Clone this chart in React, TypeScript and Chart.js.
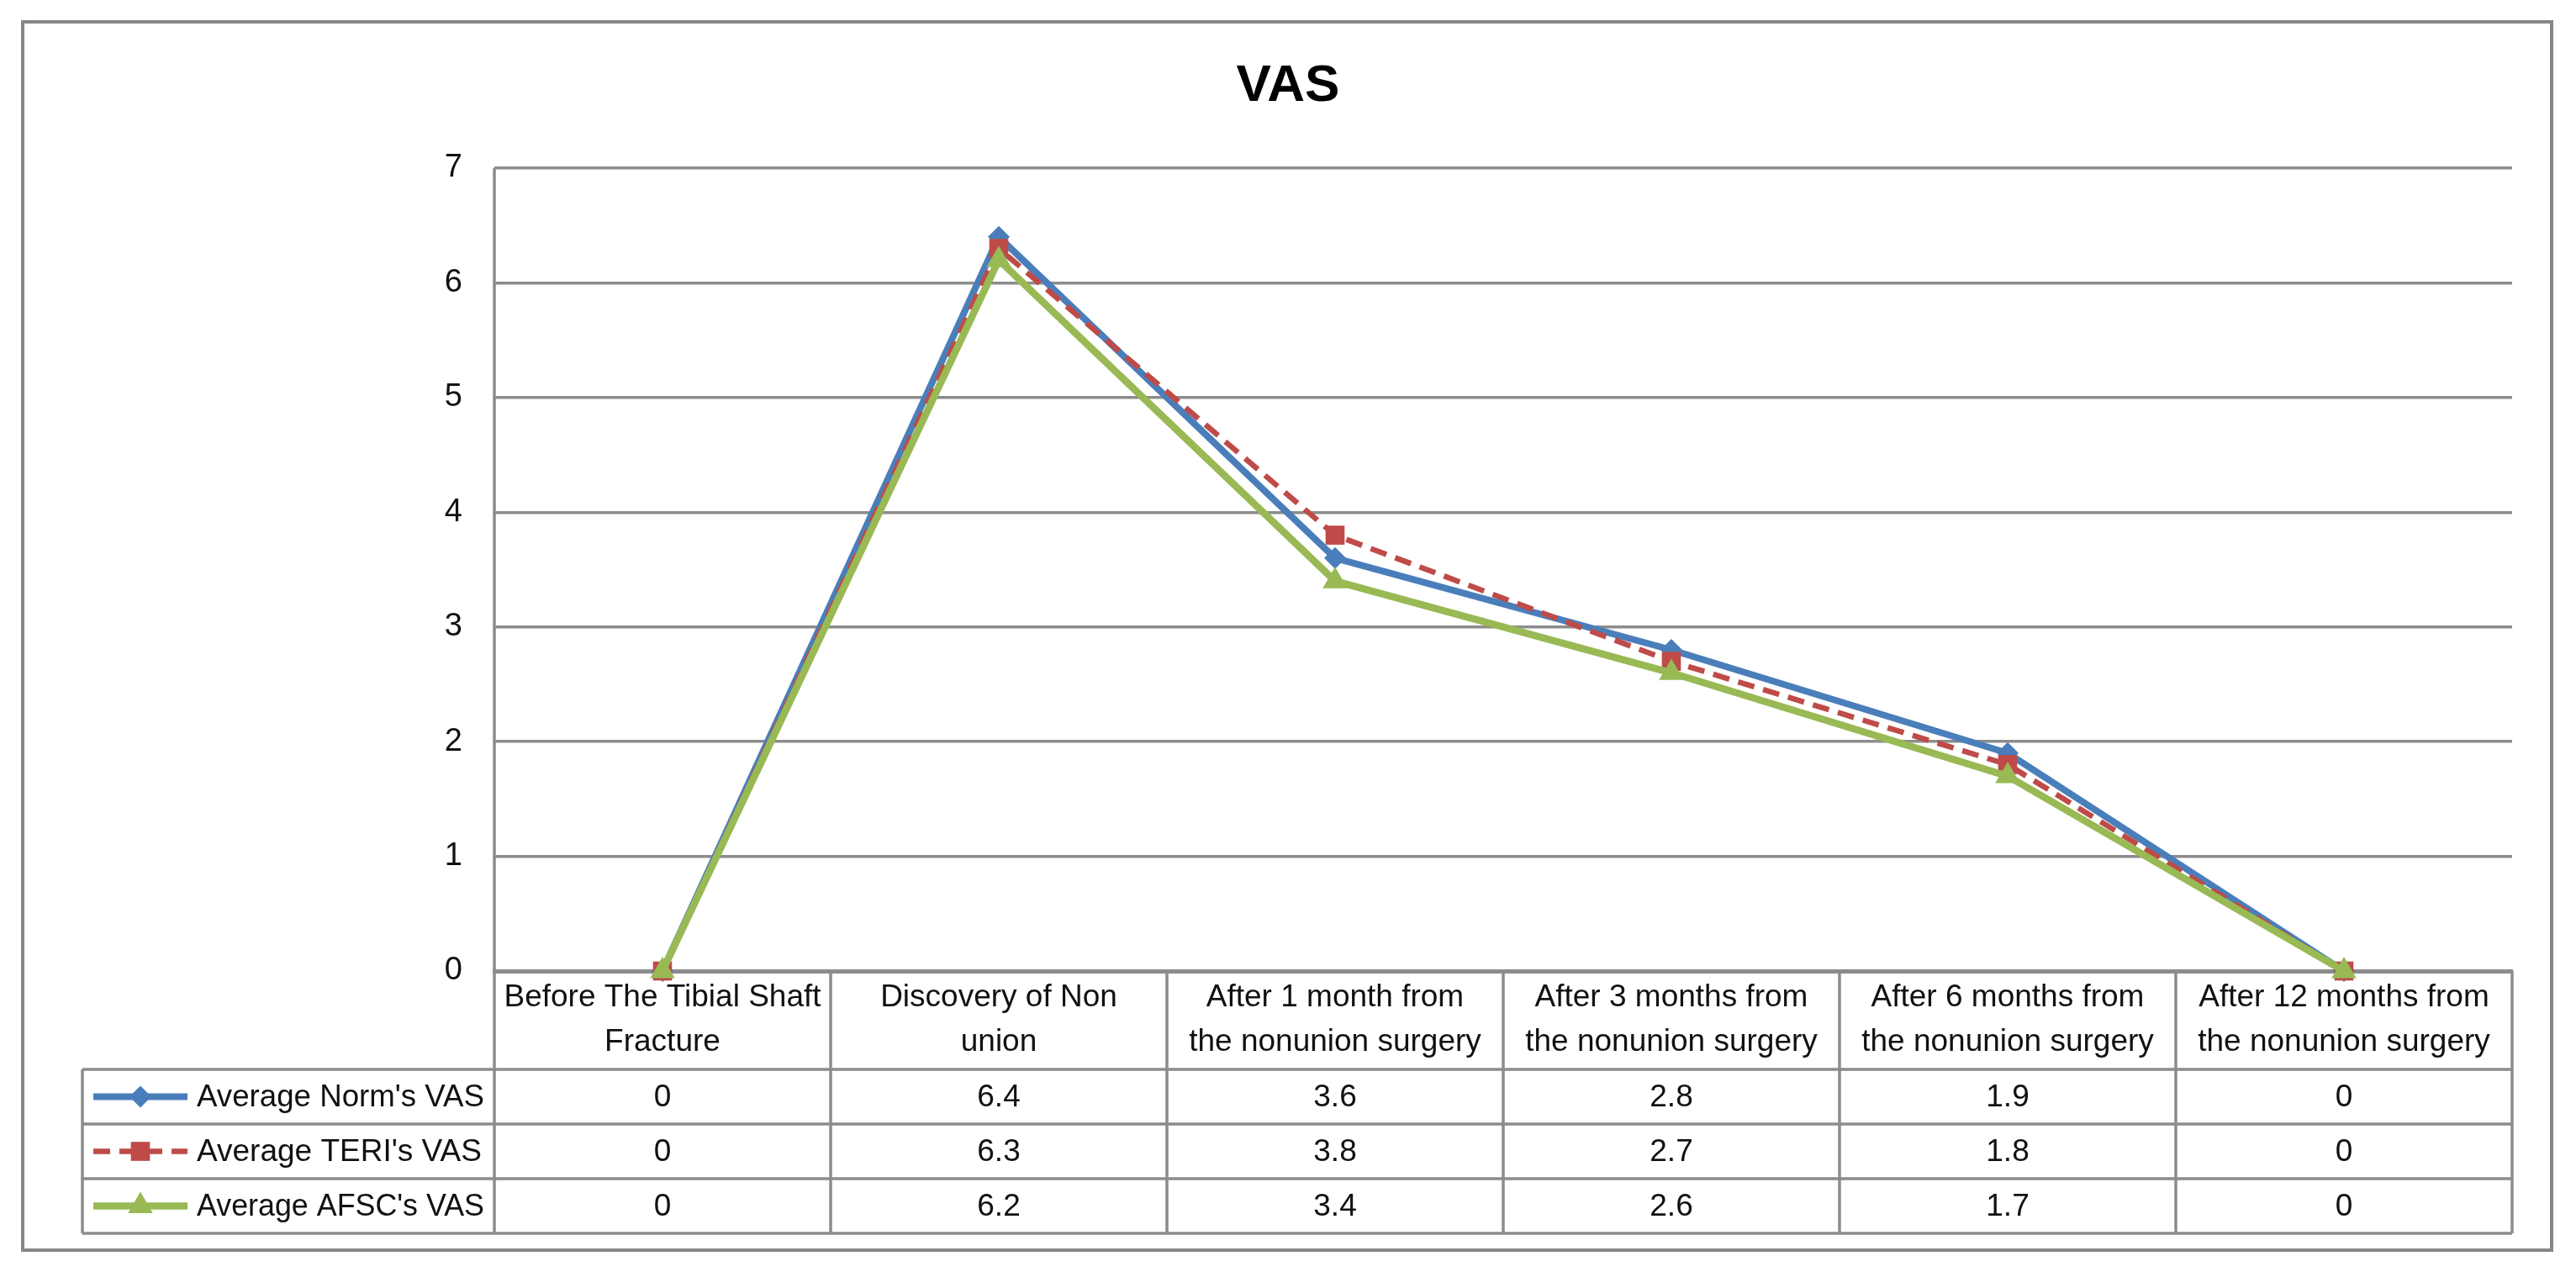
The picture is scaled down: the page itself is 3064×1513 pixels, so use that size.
import { useEffect, useRef } from "react";
import { Chart, registerables } from "chart.js";
import { drawPoint } from "chart.js/helpers";

Chart.register(...registerables);

const TITLE = "VAS";
const CATEGORIES = [
    ["Before The Tibial Shaft", "Fracture"],
    ["Discovery of Non", "union"],
    ["After 1 month from", "the nonunion surgery"],
    ["After 3 months from", "the nonunion surgery"],
    ["After 6 months from", "the nonunion surgery"],
    ["After 12 months from", "the nonunion surgery"],
];
const SERIES_NAMES = ["Average Norm's VAS", "Average TERI's VAS", "Average AFSC's VAS"];
const NORM_VAS = [0, 6.4, 3.6, 2.8, 1.9, 0];
const TERI_VAS = [0, 6.3, 3.8, 2.7, 1.8, 0];
const AFSC_VAS = [0, 6.2, 3.4, 2.6, 1.7, 0];
const Y_MIN = 0;
const Y_MAX = 7;
const Y_STEP = 1;

const FONT = "'Liberation Sans', Arial, sans-serif";
const GRID = "#8c8c8c";
const TEXT = "#111";
const HEADER_H = 117;
const ROW_H = 65;
const TABLE_LEFT = 98;

const STYLES = [
    { color: "#4A7EBB", width: 8, dash: [] as number[], point: "rectRot", radius: 13 },
    { color: "#BE4B48", width: 6.5, dash: [20, 11], point: "rect", radius: 16 },
    { color: "#98B954", width: 8.5, dash: [] as number[], point: "triangle", radius: 17 },
];

const tablePlugin = {
    id: "vasTable",
    beforeDraw(chart: any) {
        const { ctx, width } = chart;
        ctx.save();
        ctx.fillStyle = "#fff";
        ctx.fillRect(0, 0, chart.width, chart.height);
        ctx.strokeStyle = "#878787";
        ctx.lineWidth = 4;
        ctx.strokeRect(27, 26, 3008, 1461);
        ctx.fillStyle = "#000";
        ctx.font = `bold 62px ${FONT}`;
        ctx.textAlign = "center";
        ctx.textBaseline = "middle";
        ctx.fillText(TITLE, width / 2, 103);
        ctx.restore();
    },
    beforeDatasetsDraw(chart: any) {
        const { ctx, chartArea } = chart;
        const x = chart.scales.x;
        const n = CATEGORIES.length;
        const colW = (chartArea.right - chartArea.left) / n;
        const bounds = CATEGORIES.map((_, i) => x.getPixelForValue(i) - colW / 2);
        bounds.push(chartArea.right);
        const headTop = chartArea.bottom;
        const rowsTop = headTop + HEADER_H;
        const tableBottom = rowsTop + ROW_H * SERIES_NAMES.length;

        ctx.save();
        ctx.strokeStyle = GRID;
        ctx.lineWidth = 3.5;
        ctx.beginPath();
        // y axis line running down through the table
        ctx.moveTo(chartArea.left, chartArea.top);
        ctx.lineTo(chartArea.left, tableBottom);
        bounds.slice(1).forEach((bx) => {
            ctx.moveTo(bx, headTop);
            ctx.lineTo(bx, tableBottom);
        });
        ctx.moveTo(TABLE_LEFT, rowsTop);
        ctx.lineTo(TABLE_LEFT, tableBottom);
        for (let r = 0; r <= SERIES_NAMES.length; r++) {
            const y = rowsTop + r * ROW_H;
            ctx.moveTo(TABLE_LEFT, y);
            ctx.lineTo(chartArea.right, y);
        }
        ctx.stroke();

        const series = [NORM_VAS, TERI_VAS, AFSC_VAS];
        ctx.font = `37px ${FONT}`;
        ctx.textBaseline = "middle";
        series.forEach((values, r) => {
            const st = STYLES[r];
            const cy = rowsTop + r * ROW_H + ROW_H / 2;
            // legend key
            ctx.save();
            ctx.strokeStyle = st.color;
            ctx.fillStyle = st.color;
            ctx.lineWidth = st.width;
            ctx.setLineDash(st.dash);
            ctx.beginPath();
            ctx.moveTo(TABLE_LEFT + 13, cy);
            ctx.lineTo(TABLE_LEFT + 125, cy);
            ctx.stroke();
            ctx.setLineDash([]);
            drawPoint(ctx, { pointStyle: st.point as any, radius: st.radius, rotation: 0, borderWidth: 0 }, TABLE_LEFT + 69, cy);
            ctx.restore();

            ctx.fillStyle = TEXT;
            ctx.textAlign = "left";
            ctx.fillText(SERIES_NAMES[r], TABLE_LEFT + 136, cy + 1, chartArea.left - TABLE_LEFT - 148);
            ctx.textAlign = "center";
            values.forEach((v, i) => {
                ctx.fillText(String(v), x.getPixelForValue(i), cy + 1);
            });
        });
        ctx.restore();
    },
};

export default function App() {
    const canvasRef = useRef<HTMLCanvasElement | null>(null);

    useEffect(() => {
        if (!canvasRef.current) {
            return;
        }

        const chart = new Chart(canvasRef.current, {
            type: "line",
            data: {
                labels: CATEGORIES,
                datasets: [NORM_VAS, TERI_VAS, AFSC_VAS].map((data, i) => ({
                    label: SERIES_NAMES[i],
                    data,
                    borderColor: STYLES[i].color,
                    backgroundColor: STYLES[i].color,
                    borderWidth: STYLES[i].width,
                    borderDash: STYLES[i].dash,
                    pointStyle: STYLES[i].point as any,
                    pointRadius: STYLES[i].radius,
                    pointBackgroundColor: STYLES[i].color,
                    pointBorderWidth: 0,
                    tension: 0,
                    clip: false as any,
                    order: 2 - i,
                })),
            },
            options: {
                responsive: true,
                maintainAspectRatio: false,
                animation: false,
                layout: {
                    padding: { top: 200, left: 0, right: 76, bottom: ROW_H * 3 + 46 },
                },
                plugins: {
                    legend: { display: false },
                    tooltip: { enabled: false },
                    title: { display: false },
                },
                scales: {
                    x: {
                        offset: true,
                        afterFit: (s: any) => {
                            s.height = HEADER_H;
                        },
                        grid: { display: false, drawTicks: false },
                        border: { display: true, color: GRID, width: 5 },
                        ticks: {
                            color: TEXT,
                            font: { family: FONT, size: 37, lineHeight: 1.42 },
                            padding: 6,
                            maxRotation: 0,
                            autoSkip: false,
                        },
                    },
                    y: {
                        min: Y_MIN,
                        max: Y_MAX,
                        afterFit: (s: any) => {
                            s.width = 588;
                        },
                        grid: { color: GRID, lineWidth: 3.5, drawTicks: false },
                        border: { display: false },
                        ticks: {
                            stepSize: Y_STEP,
                            color: TEXT,
                            font: { family: FONT, size: 38 },
                            padding: 38,
                        },
                    },
                },
            },
            plugins: [tablePlugin],
        });

        return () => chart.destroy();
    }, []);

    return (
        <div style={{ position: "fixed", left: 0, top: 0, width: "100vw", height: "100vh", background: "#fff" }}>
            <canvas ref={canvasRef} />
        </div>
    );
}
